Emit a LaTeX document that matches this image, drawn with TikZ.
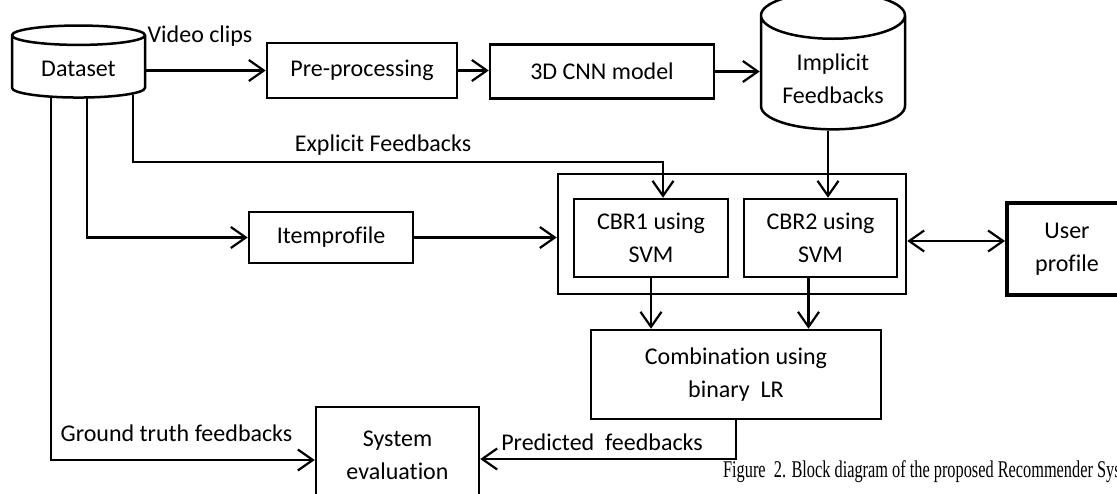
\documentclass[tikz,border=0pt]{standalone}
\usepackage{fontspec}
\setmainfont{Carlito}[Ligatures=NoCommon]
\newfontfamily\capfont{Liberation Serif}
\usetikzlibrary{shapes.geometric}
\usetikzlibrary{arrows.meta}

\begin{document}
\begin{tikzpicture}[x=1pt, y=-1pt,
            line width=2.2pt,
            >={Straight Barb[length=15pt,width=21pt]},
            font=\fontsize{24}{33}\selectfont,
            box/.style = {draw,line width=2.5pt,align=center,inner sep=0pt},
            can/.style = {draw,line width=2.5pt,cylinder,shape border rotate=90,
                align=center,inner sep=0pt},
            lbl/.style = {inner sep=0pt,align=center}]
            \useasboundingbox (0,0) rectangle (1117,493);
            \clip (0,0) rectangle (1117,493);
            % top row
            \node[can,aspect=0.26,minimum width=133pt,minimum height=72pt] (data) at (78.5,67)
                {\raisebox{-2pt}[\height][\depth]{Dataset}};
            \node[box,minimum width=190pt,minimum height=55pt] (pre) at (362,70.5) {Pre-processing};
            \node[box,minimum width=224pt,minimum height=54pt] (cnn) at (602,71.5) {3D CNN model};
            \node[can,aspect=0.46,minimum width=144pt,minimum height=128pt] (imp) at (833,73)
                {\raisebox{-7pt}[\height][\depth]{\begin{tabular}{@{}c@{}}Implicit\\Feedbacks\end{tabular}}};
            % middle
            \node[box,minimum width=164pt,minimum height=51pt] (item) at (331,237.5) {Itemprofile};
            \node[box,minimum width=348pt,minimum height=120pt] (cbr) at (732,234) {};
            \node[box,minimum width=154pt,minimum height=78pt] (cbr1) at (651,238) {CBR1 using\\SVM};
            \node[box,minimum width=153pt,minimum height=78pt] (cbr2) at (820.5,238) {CBR2 using\\SVM};
            \node[box,line width=4pt,minimum width=120pt,minimum height=92pt] (user) at (1067,249) {User\\profile};
            % bottom
            \node[box,minimum width=290pt,minimum height=89pt] (comb) at (736,374.5) {Combination using\\binary~ LR};
            \node[box,minimum width=163pt,minimum height=96pt] (eval) at (397.5,455) {System\\evaluation};
            % labels
            \node[lbl] (vclab) at (200,36) {Video clips};
            \node[lbl] (exlab) at (383,145) {Explicit Feedbacks};
            \node[lbl] (gtlab) at (176.5,433) {Ground truth feedbacks};
            \node[lbl] (pflab) at (602,442) {Predicted~ feedbacks};
            \node[lbl,anchor=west,font=\capfont\fontsize{24}{24}\selectfont] (cap) at (722,472)
                {\scalebox{0.68}[1]{Figure~ 2. Block diagram of the proposed Recommender Sys}};
            % connectors
            \draw[->] (data.east |- pre.west) -- (pre.west);
            \draw[->] (pre.east) -- (pre.east -| cnn.west);
            \draw[->] (cnn.east) -- (cnn.east -| imp.west);
            \draw[->] ([xshift=-5pt]imp.south) -- ([xshift=-5pt]imp.south |- cbr2.north);
            \draw[->] ([xshift=54.5pt,yshift=4pt]data.south) |- ([xshift=12pt,yshift=36pt]cbr1.north)
                -- ([xshift=12pt]cbr1.north);
            \draw[->] ([xshift=8.5pt,yshift=1pt]data.south) |- (item.west);
            \draw[->] ([xshift=-27.5pt,yshift=1pt]data.south) |- ([yshift=-5pt]eval.west);
            \draw[->] (item.east) -- (item.east -| cbr.west);
            \draw[->] (cbr1.south) -- (cbr1.south |- comb.north);
            \draw[->] ([xshift=-12pt]cbr2.south) -- ([xshift=-12pt]cbr2.south |- comb.north);
            \draw[->] (comb.south) |- ([yshift=-4pt]eval.east);
            \draw[<->] ([yshift=-7pt]cbr.east) -- ([yshift=-7pt]cbr.east -| user.west);
\end{tikzpicture}
\end{document}
